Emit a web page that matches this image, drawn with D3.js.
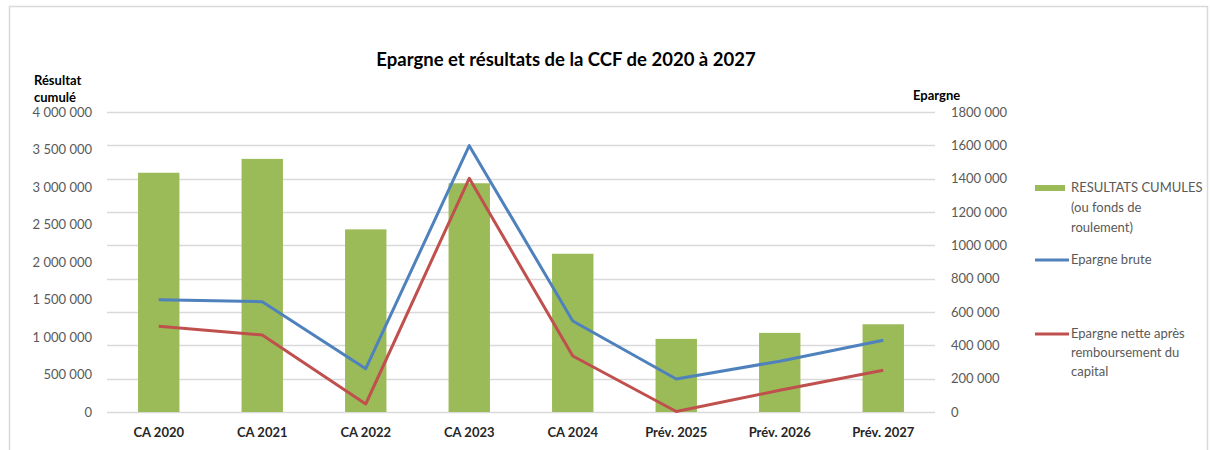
<!DOCTYPE html>
<html>
<head>
<meta charset="utf-8">
<script src="https://cdn.jsdelivr.net/npm/d3@7"></script>
<style>
  body { margin: 0; background: #fff; }
  svg { font-family: Lato, "Open Sans", sans-serif; }
</style>
</head>
<body>
<svg></svg>
<script>
// Size of the page
var width = 1210;
var height = 450;

// data
var categories = ["CA 2020", "CA 2021", "CA 2022", "CA 2023", "CA 2024", "Prév. 2025", "Prév. 2026", "Prév. 2027"];
var resultatsCumules = [3190000, 3375000, 2435000, 3050000, 2110000, 975000, 1055000, 1170000];
var epargneBrute = [674000, 662000, 260000, 1598000, 546000, 198000, 305000, 430000];
var epargneNette = [514000, 462000, 48000, 1402000, 336000, 3000, 130000, 250000];
var leftTicks = [0, 500000, 1000000, 1500000, 2000000, 2500000, 3000000, 3500000, 4000000];
var rightTicks = [0, 200000, 400000, 600000, 800000, 1000000, 1200000, 1400000, 1600000, 1800000];

var plot = {left: 107, right: 935, top: 112, bottom: 412};

var svg = d3.select("svg")
    .attr("width", width)
    .attr("height", height);

// chart frame
svg.append("rect")
    .attr("x", 9.5).attr("y", 6.5)
    .attr("width", 1198).attr("height", 460)
    .attr("fill", "none")
    .attr("stroke", "#d9d9d9")
    .attr("stroke-width", 1.5);

var x = d3.scaleBand()
    .domain(categories)
    .range([plot.left, plot.right])
    .paddingInner(0.6)
    .paddingOuter(0.3);

var yLeft = d3.scaleLinear().domain([0, 4000000]).range([plot.bottom, plot.top]);
var yRight = d3.scaleLinear().domain([0, 1800000]).range([plot.bottom, plot.top]);

var fmt = function(d) { return d3.format(",")(d).replace(/,/g, " "); };

// gridlines follow the right axis
svg.append("g")
    .selectAll("line")
    .data(rightTicks)
    .enter().append("line")
    .attr("x1", plot.left).attr("x2", plot.right)
    .attr("y1", function(d) { return Math.round(yRight(d)) + 0.5; })
    .attr("y2", function(d) { return Math.round(yRight(d)) + 0.5; })
    .attr("stroke", "#d9d9d9")
    .attr("stroke-width", 1.5);

// left axis labels
svg.append("g")
    .selectAll("text")
    .data(leftTicks)
    .enter().append("text")
    .attr("x", 92)
    .attr("y", function(d) { return yLeft(d) + 4.5; })
    .attr("text-anchor", "end")
    .style("font-size", "13px")
    .style("fill", "#595959")
    .text(fmt);

// right axis labels (no gap after the leading "1" in the reference)
svg.append("g")
    .selectAll("text")
    .data(rightTicks)
    .enter().append("text")
    .attr("x", 951)
    .attr("y", function(d) { return yRight(d) + 4.5; })
    .attr("text-anchor", "start")
    .style("font-size", "13px")
    .style("fill", "#595959")
    .text(function(d) { return fmt(d).replace(/^1 (\d00 000)$/, "1$1"); });

// bars
svg.append("g")
    .selectAll("rect")
    .data(resultatsCumules)
    .enter().append("rect")
    .attr("x", function(d, i) { return x(categories[i]); })
    .attr("width", x.bandwidth())
    .attr("y", function(d) { return yLeft(d); })
    .attr("height", function(d) { return plot.bottom - yLeft(d); })
    .attr("fill", "#9bbb59");

// lines
var line = d3.line()
    .x(function(d, i) { return x(categories[i]) + x.bandwidth() / 2; })
    .y(function(d) { return yRight(d); });

svg.append("path")
    .datum(epargneBrute)
    .attr("d", line)
    .attr("fill", "none")
    .attr("stroke", "#4f81bd")
    .attr("stroke-width", 3)
    .attr("stroke-linejoin", "round");

svg.append("path")
    .datum(epargneNette)
    .attr("d", line)
    .attr("fill", "none")
    .attr("stroke", "#c0504d")
    .attr("stroke-width", 3)
    .attr("stroke-linejoin", "round");

// x labels
svg.append("g")
    .selectAll("text")
    .data(categories)
    .enter().append("text")
    .attr("x", function(d) { return x(d) + x.bandwidth() / 2; })
    .attr("y", 437)
    .attr("text-anchor", "middle")
    .attr("font-weight", 700)
    .style("font-size", "13px")
    .style("fill", "#262626")
    .text(function(d) { return d; });

// title
svg.append("text")
    .attr("x", 566)
    .attr("y", 66)
    .attr("text-anchor", "middle")
    .attr("font-weight", 700)
    .style("font-size", "18.5px")
    .style("fill", "#000")
    .text("Epargne et résultats de la CCF de 2020 à 2027");

// axis titles
var axisTitle = svg.append("text")
    .attr("font-weight", 700)
    .style("font-size", "13px")
    .style("fill", "#000");
axisTitle.append("tspan").attr("x", 34).attr("y", 85).text("Résultat");
axisTitle.append("tspan").attr("x", 34).attr("y", 102).text("cumulé");

svg.append("text")
    .attr("x", 913)
    .attr("y", 100)
    .attr("font-weight", 700)
    .style("font-size", "13px")
    .style("fill", "#000")
    .text("Epargne");

// legend
var legend = svg.append("g")
    .style("font-size", "13px")
    .style("fill", "#595959");

legend.append("rect")
    .attr("x", 1035).attr("y", 185)
    .attr("width", 30).attr("height", 6)
    .attr("fill", "#9bbb59");
var t1 = legend.append("text");
t1.append("tspan").attr("x", 1071).attr("y", 192).text("RESULTATS CUMULES");
t1.append("tspan").attr("x", 1071).attr("y", 212).text("(ou fonds de");
t1.append("tspan").attr("x", 1071).attr("y", 232).text("roulement)");

legend.append("line")
    .attr("x1", 1035).attr("x2", 1069)
    .attr("y1", 260).attr("y2", 260)
    .attr("stroke", "#4f81bd").attr("stroke-width", 3);
legend.append("text").attr("x", 1071).attr("y", 264).text("Epargne brute");

legend.append("line")
    .attr("x1", 1035).attr("x2", 1069)
    .attr("y1", 334).attr("y2", 334)
    .attr("stroke", "#c0504d").attr("stroke-width", 3);
var t3 = legend.append("text");
t3.append("tspan").attr("x", 1071).attr("y", 338).text("Epargne nette après");
t3.append("tspan").attr("x", 1071).attr("y", 357).text("remboursement du");
t3.append("tspan").attr("x", 1071).attr("y", 376).text("capital");
</script>
</body>
</html>
